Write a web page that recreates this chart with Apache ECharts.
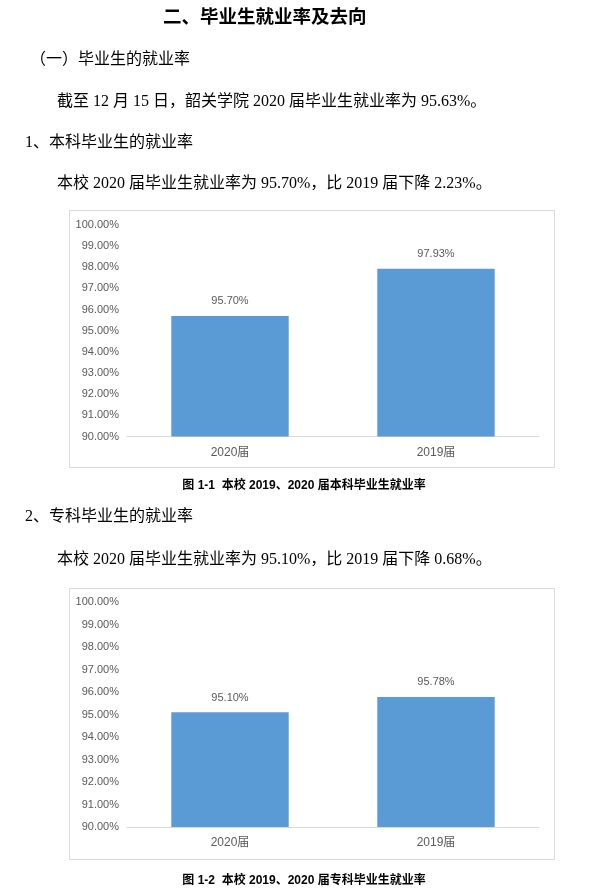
<!DOCTYPE html>
<html><head><meta charset="utf-8">
<script src="https://cdn.jsdelivr.net/npm/echarts@6/dist/echarts.min.js"></script>
<style>html,body{margin:0;padding:0;background:#fff}#c{width:599px;height:896px}</style>
</head><body><div id="c"></div>
<script>
const categories = ['2020届', '2019届'];
const benkeValues = [95.70, 97.93];
const zhuankeValues = [95.10, 95.78];
const yTickMin = 90, yTickMax = 100, yTickStep = 1;

const serif = '"Liberation Serif", "Noto Sans CJK SC", serif';
const sans = '"Liberation Sans", "Noto Sans CJK SC", sans-serif';
const chart = echarts.init(document.getElementById('c'), null, {renderer: 'canvas'});

function txt(x, y, s, size, opts) {
  return Object.assign({type: 'text', x: x, y: y, style: Object.assign({text: s, font: (opts && opts.bold ? 'bold ' : '') + size + 'px ' + (opts && opts.font || serif), fill: '#000', textVerticalAlign: 'middle'}, opts && opts.style || {})});
}
const gridCommon = {left: 127, right: 60};
function yAxis(idx) {
  return {type: 'value', gridIndex: idx, min: yTickMin, max: yTickMax, interval: yTickStep,
    axisLine: {show: false}, axisTick: {show: false}, splitLine: {show: false},
    axisLabel: {formatter: v => v.toFixed(2) + '%', color: '#595959', fontSize: 11, fontFamily: sans, margin: 8}};
}
function xAxis(idx) {
  return {type: 'category', gridIndex: idx, data: categories,
    axisLine: {lineStyle: {color: '#D9D9D9', width: 1}}, axisTick: {show: false},
    axisLabel: {color: '#595959', fontSize: 12, fontFamily: sans, margin: 10}};
}
function bar(idx, data) {
  return {type: 'bar', xAxisIndex: idx, yAxisIndex: idx, data: data, barWidth: '57%',
    itemStyle: {color: '#5B9BD5'},
    label: {show: true, position: 'top', distance: 9, formatter: p => p.value.toFixed(2) + '%', color: '#595959', fontSize: 11, fontFamily: sans}};
}
chart.setOption({
  animation: false,
  grid: [
    Object.assign({top: 225, height: 211.5}, gridCommon),
    Object.assign({top: 602, height: 225}, gridCommon)
  ],
  xAxis: [xAxis(0), xAxis(1)],
  yAxis: [yAxis(0), yAxis(1)],
  series: [bar(0, benkeValues), bar(1, zhuankeValues)],
  graphic: [
    {type: 'rect', shape: {x: 69.5, y: 210.5, width: 485, height: 257}, style: {fill: 'none', stroke: '#D9D9D9', lineWidth: 1}, z: -1},
    {type: 'rect', shape: {x: 69.5, y: 588.5, width: 485, height: 271}, style: {fill: 'none', stroke: '#D9D9D9', lineWidth: 1}, z: -1},
    txt(163, 18, '二、毕业生就业率及去向', 18.5, {bold: true}),
    txt(30, 60, '（一）毕业生的就业率', 16),
    txt(57, 102, '截至 12 月 15 日，韶关学院 2020 届毕业生就业率为 95.63%。', 16),
    txt(25, 143, '1、本科毕业生的就业率', 16),
    txt(57, 184, '本校 2020 届毕业生就业率为 95.70%，比 2019 届下降 2.23%。', 16),
    txt(304, 486, '图 1-1  本校 2019、2020 届本科毕业生就业率', 12, {bold: true, font: sans, style: {textAlign: 'center'}}),
    txt(25, 517, '2、专科毕业生的就业率', 16),
    txt(57, 560, '本校 2020 届毕业生就业率为 95.10%，比 2019 届下降 0.68%。', 16),
    txt(304, 881, '图 1-2  本校 2019、2020 届专科毕业生就业率', 12, {bold: true, font: sans, style: {textAlign: 'center'}})
  ]
});
</script></body></html>
